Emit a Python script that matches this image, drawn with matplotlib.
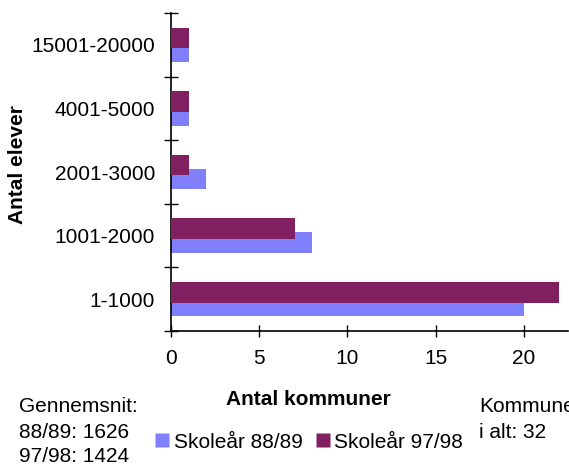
import matplotlib
matplotlib.use("Agg")
import matplotlib.pyplot as plt
import numpy as np
from matplotlib.lines import Line2D

categories = ["1-1000", "1001-2000", "2001-3000", "4001-5000", "15001-20000"]
series_names = ["Skoleår 88/89", "Skoleår 97/98"]
values_8889 = [20, 8, 2, 1, 1]
values_9798 = [22, 7, 1, 1, 1]
colors = ["#8080FF", "#802060"]
xticks = [0, 5, 10, 15, 20]
note_left = ["Gennemsnit:", "88/89: 1626", "97/98: 1424"]
note_right = ["Kommuner", "i alt: 32"]

plt.rcParams['font.family'] = ['Liberation Sans', 'DejaVu Sans']
FS = 15

W, H = 569, 466
fig = plt.figure(figsize=(W / 100, H / 100), dpi=100)
ax = fig.add_axes([171 / W, 1 - 331 / H, 397 / W, 318 / H])

y = np.arange(len(categories))
h = 0.324
off = 0.108
ax.barh(y - off, values_8889, height=h, color=colors[0], edgecolor='none', zorder=2)
ax.barh(y + off, values_9798, height=h, color=colors[1], edgecolor='none', zorder=3)

ax.set_xlim(0, 22.5)
ax.set_ylim(-0.5, len(categories) - 0.5)
ax.set_xticks(xticks)
ax.set_xticklabels([str(t) for t in xticks], fontsize=FS)
ax.set_yticks(np.arange(len(categories) + 1) - 0.5)
ax.set_yticklabels([])
ax.set_yticks(y, minor=True)
ax.set_yticklabels(categories, minor=True, fontsize=FS)
ax.tick_params(axis='y', which='minor', length=0, pad=11.5)
ax.tick_params(axis='y', which='major', direction='inout', length=9.4, width=1)
ax.tick_params(axis='x', which='major', direction='inout', length=8.6, width=1, pad=8.5)

for s in ['top', 'right']:
    ax.spines[s].set_visible(False)
for s in ['left', 'bottom']:
    ax.spines[s].set_linewidth(1.2)

fig.text(18 / W, 1 - 165 / H, "Antal elever", rotation=90, ha='center', va='center',
         fontsize=FS, fontweight='bold')
fig.text(308.5 / W, 1 - 405 / H, "Antal kommuner", ha='center', va='baseline',
         fontsize=FS, fontweight='bold')

baselines = [412, 437.5, 462]
for line, b in zip(note_left, baselines):
    fig.text(19 / W, 1 - b / H, line, ha='left', va='baseline', fontsize=FS)
for line, b in zip(note_right, baselines):
    fig.text(479 / W, 1 - b / H, line, ha='left', va='baseline', fontsize=FS)

handles = [Line2D([0], [0], marker='s', linestyle='none', markersize=9.4,
                  markerfacecolor=c, markeredgecolor='none') for c in colors]
fig.legend(handles, series_names, loc='center', bbox_to_anchor=(309.5 / W, 1 - 442 / H),
           ncol=2, frameon=False, fontsize=FS, handletextpad=0.25, columnspacing=0.6,
           handlelength=0.65, borderaxespad=0, borderpad=0)

fig.savefig("out.png", dpi=100)
